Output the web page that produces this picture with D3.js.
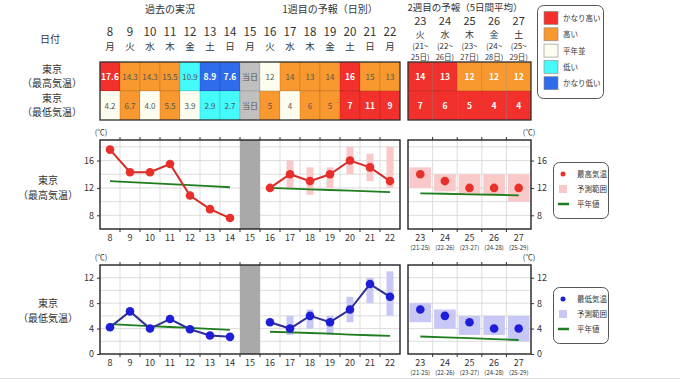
<!DOCTYPE html>
<html><head><meta charset="utf-8">
<script src="https://cdn.jsdelivr.net/npm/d3@7"></script>
<style>body{margin:0;background:#fff;} text{font-family:"Noto Sans CJK JP","Noto Sans",sans-serif;}</style>
</head><body><svg id="c" width="680" height="382"></svg>
<script>
// ---------- data ----------
const pastDays=[8,9,10,11,12,13,14];
const pastWeekdays=["月","火","水","木","金","土","日"];
const todayDays=[15];
const todayWeekdays=["月"];
const week1Days=[16,17,18,19,20,21,22];
const week1Weekdays=["火","水","木","金","土","日","月"];
const week2Days=[23,24,25,26,27];
const week2Weekdays=["火","水","木","金","土"];
const week2Start=["21","22","23","24","25"];
const week2End=["25","26","27","28","29"];

const classLabels=["かなり高い","高い","平年並","低い","かなり低い"];
const classKeys=["vh","h","n","l","vl"];

// max temperature
const maxObs=[17.6,14.3,14.3,15.5,10.9,8.9,7.6];
const maxObsClass=["vh","h","h","h","l","vl","vl"];
const maxFc1=[12,14,13,14,16,15,13];
const maxFc1Class=["n","h","h","h","vh","h","h"];
const maxFc1Lo=[null,12,11,12,14,13,12];
const maxFc1Hi=[null,16,15,15,18,17,18];
const maxNormalPast=[13.0,12.85,12.7,12.55,12.4,12.25,12.1];
const maxNormalWk1=[12.0,11.9,11.8,11.7,11.6,11.5,11.4];
const maxFc2=[14,13,12,12,12];
const maxFc2Class=["vh","vh","h","h","h"];
const maxFc2Lo=[12,11.5,11,11,10];
const maxFc2Hi=[15,14,14,14,14];
const maxNormalWk2=[11.2,11.15,11.05,11.0,10.9];

// min temperature
const minObs=[4.2,6.7,4.0,5.5,3.9,2.9,2.7];
const minObsClass=["n","h","n","h","n","l","l"];
const minFc1=[5,4,6,5,7,11,9];
const minFc1Class=["h","n","h","h","vh","vh","vh"];
const minFc1Lo=[null,3,4,3,5,8,6];
const minFc1Hi=[null,6,7,6,9,12,13];
const minNormalPast=[4.7,4.55,4.4,4.25,4.1,3.95,3.8];
const minNormalWk1=[3.5,3.4,3.3,3.2,3.05,2.95,2.85];
const minFc2=[7,6,5,4,4];
const minFc2Class=["vh","vh","vh","vh","vh"];
const minFc2Lo=[5,4,3,3,2];
const minFc2Hi=[8,7,6,6,6];
const minNormalWk2=[2.75,2.6,2.5,2.35,2.2];

const todayLabel="当日";
const maxYTicks=[8,12,16];
const minYTicks=[0,4,8,12];

// ---------- styles ----------
const classColor={vh:"#f2302c",h:"#f8982f",n:"#fdfdef",l:"#44fafa",vl:"#2e6cec"};
const txt="#333";
const svg=d3.select("#c");
const F="'Noto Sans CJK JP','Noto Sans',sans-serif";
const FN="'Liberation Sans','Noto Sans CJK JP',sans-serif";

const xL=d3.scaleLinear().domain([7.5,22.5]).range([100,400]);
const xR=d3.scaleLinear().domain([22.5,27.5]).range([408,531]);
const cwL=xL(1)-xL(0), cwR=xR(1)-xR(0);

function t(x,y,s,size,opts={}){
  return svg.append("text").attr("x",x).attr("y",y).text(s)
   .attr("font-size",size).attr("fill",opts.fill||txt)
   .attr("text-anchor",opts.anchor||"middle")
   .attr("font-family",opts.num?FN:F)
   .attr("font-weight",opts.weight||"normal");
}

// bottom border
svg.append("line").attr("x1",0).attr("x2",680).attr("y1",378.5).attr("y2",378.5).attr("stroke","#ddd");

// ---------- header ----------
t((xL(7.5)+xL(14.5))/2,13,"過去の実況",10);
t((xL(15.5)+xL(22.5))/2,13,"1週目の予報（日別）",10);
t(465,10.5,"2週目の予報（5日間平均）",9.5);
t(50,43,"日付",10);
const leftDays=pastDays.concat(todayDays,week1Days);
const leftWd=pastWeekdays.concat(todayWeekdays,week1Weekdays);
leftDays.forEach((d,i)=>{t(xL(d),36,d,11.5,{num:true});t(xL(d),49.5,leftWd[i],9.5);});
week2Days.forEach((d,i)=>{
  t(xR(d),25,d,11,{num:true});t(xR(d),37.8,week2Weekdays[i],9);
  t(xR(d),48.7,"("+week2Start[i]+"~",8,{num:true});
  t(xR(d),59.6,week2End[i]+"日)",7.5);
});

// ---------- top legend ----------
svg.append("rect").attr("x",537.5).attr("y",5.5).attr("width",66).attr("height",93).attr("rx",6)
  .attr("fill","#fff").attr("stroke","#555").attr("stroke-width",1);
classKeys.forEach((k,i)=>{
  const cy=18+i*16.3;
  svg.append("rect").attr("x",544).attr("y",cy-6.5).attr("width",14).attr("height",13)
    .attr("fill",classColor[k]).attr("stroke","#888").attr("stroke-width",0.6);
  t(563,cy+3,classLabels[i],7.5,{anchor:"start"});
});

// ---------- table ----------
const rowY=[62,91], rowH=29;
t(52,73,"東京",10);t(52,87,"（最高気温）",10);
t(52,102,"東京",10);t(52,116,"（最低気温）",10);

function cell(x,y,w,val,cls,fmt){
  const col=cls?classColor[cls]:"#c0c0c0";
  svg.append("rect").attr("x",x).attr("y",y).attr("width",w).attr("height",rowH)
    .attr("fill",col).attr("stroke","rgba(0,0,0,0.18)").attr("stroke-width",0.6);
  const strong=(cls==="vh"||cls==="vl");
  t(x+w/2,y+rowH/2+3,fmt(val),strong?8.5:8,{fill:strong?"#fff":"#555",weight:strong?"bold":"normal",num:cls!=null});
}
const f1=v=>v.toFixed(1), f0=v=>String(v), fs=v=>v;
[[maxObs,maxObsClass,maxFc1,maxFc1Class],[minObs,minObsClass,minFc1,minFc1Class]].forEach((r,ri)=>{
  const y=rowY[ri];
  pastDays.forEach((d,i)=>cell(xL(d-0.5),y,cwL,r[0][i],r[1][i],f1));
  todayDays.forEach(d=>cell(xL(d-0.5),y,cwL,todayLabel,null,fs));
  week1Days.forEach((d,i)=>cell(xL(d-0.5),y,cwL,r[2][i],r[3][i],f0));
});
[[maxFc2,maxFc2Class],[minFc2,minFc2Class]].forEach((r,ri)=>{
  week2Days.forEach((d,i)=>{
    const x=xR(d-0.5),y=rowY[ri];
    svg.append("rect").attr("x",x).attr("y",y).attr("width",cwR).attr("height",rowH)
      .attr("fill",classColor[r[1][i]]).attr("stroke","rgba(0,0,0,0.18)").attr("stroke-width",0.6);
    t(x+cwR/2,y+rowH/2+3,r[0][i],8.5,{fill:"#fff",weight:"bold",num:true});
  });
});
svg.append("rect").attr("x",xL(7.5)).attr("y",62).attr("width",xL(22.5)-xL(7.5)).attr("height",58)
  .attr("fill","none").attr("stroke","#333").attr("stroke-width",1.3);
svg.append("rect").attr("x",xR(22.5)).attr("y",62).attr("width",xR(27.5)-xR(22.5)).attr("height",58)
  .attr("fill","none").attr("stroke","#333").attr("stroke-width",1.3);

// ---------- charts ----------
function chart(cfg){
  const y=d3.scaleLinear().domain(cfg.domain).range([cfg.bottom,cfg.top]);
  const grid=d3.range(cfg.domain[0]+2,cfg.domain[1]+0.01,2).filter(v=>v<cfg.domain[1]);
  const g=svg.append("g");
  [[xL,7.5,22.5],[xR,22.5,27.5]].forEach(([x,a,b])=>{
    grid.forEach(v=>g.append("line").attr("x1",x(a)).attr("x2",x(b)).attr("y1",y(v)).attr("y2",y(v))
      .attr("stroke","#d4d4d4").attr("stroke-width",0.8));
    d3.range(a+1,b,1).forEach(v=>{
      g.append("line").attr("x1",x(v)).attr("x2",x(v)).attr("y1",cfg.top).attr("y2",cfg.bottom)
        .attr("stroke","#d4d4d4").attr("stroke-width",0.8);
      [[cfg.top-3,cfg.top],[cfg.bottom,cfg.bottom+3]].forEach(([y1,y2])=>
        g.append("line").attr("x1",x(v)).attr("x2",x(v)).attr("y1",y1).attr("y2",y2).attr("stroke","#333"));
    });
  });
  todayDays.forEach(d=>g.append("rect").attr("x",xL(d-0.5)).attr("y",cfg.top).attr("width",cwL)
    .attr("height",cfg.bottom-cfg.top).attr("fill","#a9a9a9"));
  week1Days.forEach((d,i)=>{
    if(cfg.lo1[i]==null) return;
    g.append("rect").attr("x",xL(d)-3.5).attr("width",7).attr("y",y(cfg.hi1[i]))
      .attr("height",y(cfg.lo1[i])-y(cfg.hi1[i])).attr("fill",cfg.rangeColor);
  });
  week2Days.forEach((d,i)=>{
    g.append("rect").attr("x",xR(d)-cwR/2+1.5).attr("width",cwR-3).attr("y",y(cfg.hi2[i]))
      .attr("height",y(cfg.lo2[i])-y(cfg.hi2[i])).attr("fill",cfg.rangeColor);
  });
  const line=(x)=>d3.line().x(d=>x(d[0])).y(d=>y(d[1]));
  [[xL,pastDays,cfg.nPast],[xL,week1Days,cfg.nWk1],[xR,week2Days,cfg.nWk2]].forEach(([x,ds,vs])=>
    g.append("path").attr("d",line(x)(ds.map((d,i)=>[d,vs[i]]))).attr("fill","none")
      .attr("stroke","#1e7d1e").attr("stroke-width",1.8));
  [[pastDays,cfg.obs],[week1Days,cfg.fc1]].forEach(([ds,vs])=>{
    g.append("path").attr("d",line(xL)(ds.map((d,i)=>[d,vs[i]]))).attr("fill","none")
      .attr("stroke",cfg.lineColor).attr("stroke-width",2);
    ds.forEach((d,i)=>g.append("circle").attr("cx",xL(d)).attr("cy",y(vs[i])).attr("r",4.3).attr("fill",cfg.ptColor));
  });
  week2Days.forEach((d,i)=>g.append("circle").attr("cx",xR(d)).attr("cy",y(cfg.fc2[i])).attr("r",4.3).attr("fill",cfg.ptColor));
  g.append("rect").attr("x",xL(7.5)).attr("y",cfg.top).attr("width",xL(22.5)-xL(7.5)).attr("height",cfg.bottom-cfg.top)
    .attr("fill","none").attr("stroke","#222").attr("stroke-width",1.4);
  g.append("rect").attr("x",xR(22.5)).attr("y",cfg.top).attr("width",xR(27.5)-xR(22.5)).attr("height",cfg.bottom-cfg.top)
    .attr("fill","none").attr("stroke","#222").attr("stroke-width",1.4);
  const ax=svg.append("g").attr("transform",`translate(${xL(7.5)},0)`).call(d3.axisLeft(y).tickValues(cfg.ticks).tickSize(3));
  const ax2=svg.append("g").attr("transform",`translate(${xR(27.5)},0)`).call(d3.axisRight(y).tickValues(cfg.ticks).tickSize(3));
  [ax,ax2].forEach(a=>{a.select(".domain").remove();a.selectAll("text").attr("font-size",9).attr("fill",txt).attr("font-family",FN);
    a.selectAll("line").attr("stroke","#333");});
  t(xL(7.5)+1,cfg.top-5,"(℃)",7.5);
  t(xR(27.5)-2,cfg.top-5,"(℃)",7.5);
  leftDays.forEach(d=>t(xL(d),cfg.bottom+12,d,9,{num:true}));
  week2Days.forEach((d,i)=>{t(xR(d),cfg.bottom+11.5,d,9,{num:true});
    t(xR(d),cfg.bottom+20.5,"("+week2Start[i]+"-"+week2End[i]+")",6,{num:true});});
  t(48,cfg.labelY,"東京",10);t(48,cfg.labelY+15,cfg.labelSub,10);
  const ly=cfg.top+22;
  svg.append("rect").attr("x",553.5).attr("y",ly+0.5).attr("width",55).attr("height",56).attr("rx",6)
    .attr("fill","#fff").attr("stroke","#555");
  svg.append("circle").attr("cx",563).attr("cy",ly+12).attr("r",2.5).attr("fill",cfg.ptColor);
  t(577,ly+15,cfg.legendName,7.5,{anchor:"start"});
  svg.append("rect").attr("x",559).attr("y",ly+23).attr("width",8).attr("height",8).attr("fill",cfg.rangeColor);
  t(577,ly+30,"予測範囲",7.5,{anchor:"start"});
  svg.append("line").attr("x1",558).attr("x2",569).attr("y1",ly+42).attr("y2",ly+42).attr("stroke","#1e7d1e").attr("stroke-width",2.5);
  t(577,ly+45,"平年値",7.5,{anchor:"start"});
}

chart({domain:[6,19],top:140,bottom:229,ticks:maxYTicks,obs:maxObs,fc1:maxFc1,fc2:maxFc2,
  lo1:maxFc1Lo,hi1:maxFc1Hi,lo2:maxFc2Lo,hi2:maxFc2Hi,nPast:maxNormalPast,nWk1:maxNormalWk1,nWk2:maxNormalWk2,
  rangeColor:"#f9c8c8",lineColor:"#d62b28",ptColor:"#e8302b",labelY:184,labelSub:"（最高気温）",legendName:"最高気温"});
chart({domain:[0,14],top:265,bottom:354,ticks:minYTicks,obs:minObs,fc1:minFc1,fc2:minFc2,
  lo1:minFc1Lo,hi1:minFc1Hi,lo2:minFc2Lo,hi2:minFc2Hi,nPast:minNormalPast,nWk1:minNormalWk1,nWk2:minNormalWk2,
  rangeColor:"#c8c8f6",lineColor:"#303090",ptColor:"#1e1ed8",labelY:307,labelSub:"（最低気温）",legendName:"最低気温"});
</script></body></html>
